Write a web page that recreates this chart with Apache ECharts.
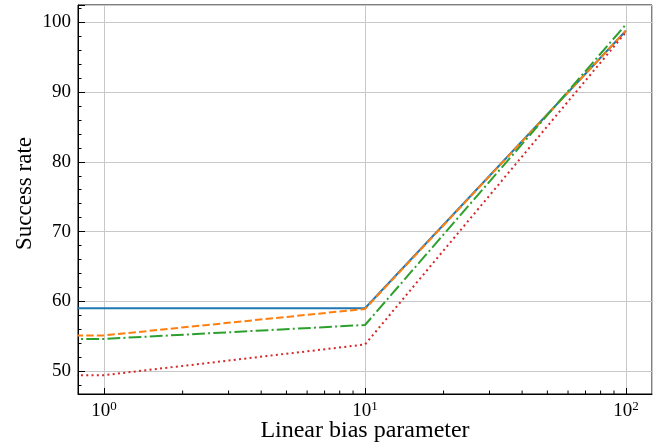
<!DOCTYPE html>
<html>
<head>
<meta charset="utf-8">
<script src="https://cdn.jsdelivr.net/npm/echarts@6/dist/echarts.min.js"></script>
<style>html,body{margin:0;padding:0;background:#fff}#c{width:671px;height:448px}</style>
</head>
<body>
<div id="c"></div>
<script>
// Data (bias 0 is drawn at a tiny positive position on the log axis, like matplotlib's clipping)
const biasValues = [0, 1, 10, 100];
const seriesNames = ['A', 'B', 'C', 'D'];
const seriesA = [59.0, 59.0, 59.0, 98.8];
const seriesB = [55.1, 55.1, 58.9, 98.8];
const seriesC = [54.6, 54.6, 56.6, 99.7];
const seriesD = [49.4, 49.4, 53.8, 98.6];
const xMinorTickValues = [2, 3, 4, 5, 6, 7, 8, 9, 20, 30, 40, 50, 60, 70, 80, 90];
const xTitle = 'Linear bias parameter';
const yTitle = 'Success rate';

const X_MIN = Math.pow(10, -0.1), X_MAX = Math.pow(10, 2.1);
const Y_MIN = 46.7, Y_MAX = 102.5;
const FONT = 'Liberation Serif';
const ZERO_POS = 1e-6;

const colors = ['#1f77b4', '#ff7f0e', '#2ca02c', '#d62728'];
const dashes = ['solid', [7.4, 3.2], [12.8, 3.2, 2, 3.2], [2, 3.3]];
const allValues = [seriesA, seriesB, seriesC, seriesD];

const chart = echarts.init(document.getElementById('c'), null, {renderer: 'canvas'});

const lineSeries = allValues.map((vals, i) => ({
  type: 'line',
  name: seriesNames[i],
  data: biasValues.map((x, j) => [x > 0 ? x : ZERO_POS, vals[j]]),
  showSymbol: false,
  symbol: 'none',
  clip: true,
  lineStyle: {color: colors[i], width: 2, type: dashes[i], cap: 'butt'},
  itemStyle: {color: colors[i]},
  z: 3 + i,
  animation: false
}));

const minorTickSeries = {
  type: 'custom',
  data: xMinorTickValues.map(v => [v]),
  clip: false,
  silent: true,
  z: 10,
  animation: false,
  renderItem: function (params, api) {
    const p = api.coord([api.value(0), Y_MIN]);
    return {
      type: 'line',
      shape: {x1: p[0], y1: p[1], x2: p[0], y2: p[1] - 3.5},
      style: {stroke: '#000', lineWidth: 1}
    };
  }
};

chart.setOption({
  animation: false,
  backgroundColor: '#fff',
  grid: {left: 78, right: 19, top: 5, bottom: 54, outerBoundsMode: 'none', containLabel: false,
         show: true, borderColor: '#000', borderWidth: 1, backgroundColor: 'transparent'},
  xAxis: {
    type: 'log',
    logBase: 10,
    min: X_MIN,
    max: X_MAX,
    name: xTitle,
    nameLocation: 'middle',
    nameGap: 25,
    nameMoveOverlap: false,
    nameTextStyle: {fontFamily: FONT, fontSize: 24, color: '#000'},
    axisLine: {show: true, lineStyle: {color: '#000', width: 1}},
    axisTick: {show: true, inside: true, length: 6, lineStyle: {color: '#000', width: 1}},
    axisLabel: {
      showMinLabel: false,
      showMaxLabel: false,
      margin: 6,
      formatter: function (v) {
        const e = Math.round(Math.log10(v));
        return '{b|10}{s|' + e + '}';
      },
      rich: {
        b: {fontFamily: FONT, fontSize: 19, color: '#000', lineHeight: 21, verticalAlign: 'bottom'},
        s: {fontFamily: FONT, fontSize: 13, color: '#000', lineHeight: 21, verticalAlign: 'top', padding: [0, 0, 6, 0]}
      }
    },
    splitLine: {show: true, lineStyle: {color: '#c8c8c8', width: 1}},
    minorTick: {show: false},
    minorSplitLine: {show: false}
  },
  yAxis: {
    type: 'value',
    min: Y_MIN,
    max: Y_MAX,
    name: yTitle,
    nameLocation: 'middle',
    nameGap: 42,
    nameMoveOverlap: false,
    nameRotate: 90,
    nameTextStyle: {fontFamily: FONT, fontSize: 23, color: '#000', padding: [0, 0, 0, 12]},
    axisLine: {show: true, lineStyle: {color: '#000', width: 1}},
    axisTick: {show: true, inside: true, length: 7, lineStyle: {color: '#000', width: 1}},
    minorTick: {show: true, splitNumber: 5, length: 3.5, lineStyle: {color: '#000', width: 1}},
    axisLabel: {showMinLabel: false, showMaxLabel: false, margin: 7, fontFamily: FONT, fontSize: 19, color: '#000'},
    splitLine: {show: true, lineStyle: {color: '#c8c8c8', width: 1}},
    minorSplitLine: {show: false}
  },
  series: lineSeries.concat([minorTickSeries])
});
</script>
</body>
</html>
